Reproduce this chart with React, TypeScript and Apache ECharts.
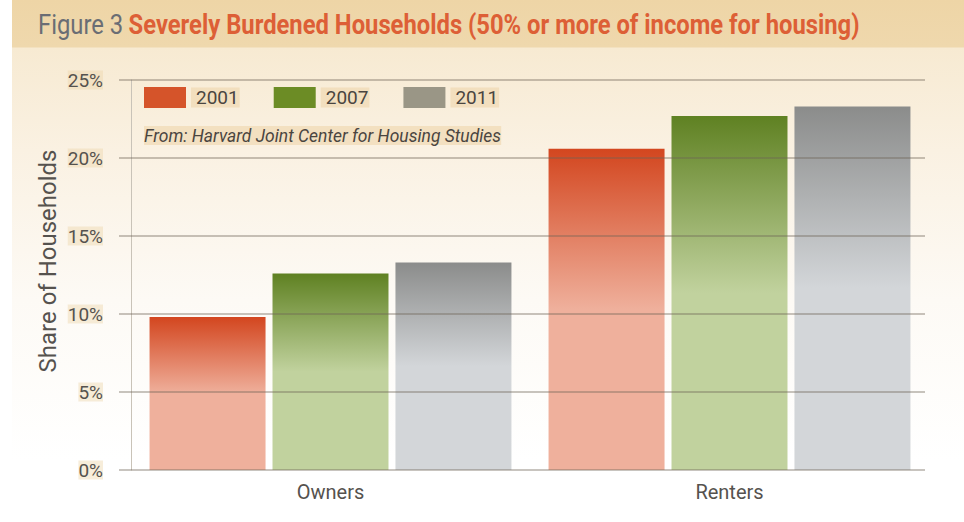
import React, { useEffect, useRef } from "react";
import * as echarts from "echarts";

const categories = ["Owners", "Renters"];
const years = ["2001", "2007", "2011"];
const share2001 = [9.8, 20.6];
const share2007 = [12.6, 22.7];
const share2011 = [13.3, 23.3];
const yTicks = [0, 5, 10, 15, 20, 25];

const FONT = 'Roboto, "Liberation Sans", sans-serif';

const palette = [
  { legend: "#d5542a", top: "#d3461f", bottom: "#efb09c" },
  { legend: "#6c8c25", top: "#5f8122", bottom: "#c1d29e" },
  { legend: "#9a9686", top: "#8b8c8b", bottom: "#d3d6d9" },
];

function grad(top: string, bottom: string) {
  return new echarts.graphic.LinearGradient(0, 0, 0, 1, [
    { offset: 0, color: top },
    { offset: 0.5, color: bottom },
    { offset: 1, color: bottom },
  ]);
}

export default function App() {
  const ref = useRef<HTMLDivElement>(null);
  useEffect(() => {
    if (!ref.current) return;
    const chart = echarts.init(ref.current, null, { renderer: "svg" });
    const seriesData = [share2001, share2007, share2011];
    chart.setOption({
      animation: false,
      backgroundColor: "transparent",
      legend: {
        left: 144,
        top: 87,
        padding: 0,
        itemWidth: 42,
        itemHeight: 21,
        itemGap: 34,
        icon: "rect",
        data: years.map((y, i) => ({ name: y, itemStyle: { color: palette[i].legend } })),
        textStyle: {
          fontFamily: FONT,
          fontSize: 19,
          color: "#4a4540",
          backgroundColor: "rgba(238,214,172,0.6)",
          padding: [1, 1, 0, 5],
        },
      },
      graphic: [
        {
          type: "text",
          x: 38,
          y: 10,
          scaleX: 0.85,
          style: {
            text: "{a|Figure 3} {b|Severely Burdened Households (50% or more of income for housing)}",
            rich: {
              a: { fontFamily: FONT, fontSize: 28, fill: "#6a6d74" },
              b: { fontFamily: FONT, fontSize: 28, fontWeight: "bold", fill: "#dd5f36", padding: [0, 0, 0, 3] },
            },
          },
        },
        {
          type: "text",
          x: 144,
          y: 126,
          scaleX: 0.92,
          style: {
            text: "From: Harvard Joint Center for Housing Studies",
            fontFamily: FONT,
            fontStyle: "italic",
            fontSize: 19,
            fill: "#4a4540",
            backgroundColor: "rgba(238,214,172,0.6)",
          },
        },
        {
          type: "text",
          left: 36,
          top: "center",
          rotation: Math.PI / 2,
          style: {
            text: "Share of Households",
            fontFamily: FONT,
            fontSize: 24,
            fill: "#55524e",
          },
        },
      ],
      grid: [
        { left: 131, right: 35, top: 80, bottom: 52 },
        { left: 119, right: 39, top: 80, bottom: 52 },
      ],
      xAxis: [
        {
          type: "category",
          gridIndex: 0,
          data: categories,
          axisLine: { show: false },
          axisTick: { show: false },
          axisLabel: { fontFamily: FONT, fontSize: 20, color: "#55524e", margin: 12 },
        },
        { type: "value", gridIndex: 1, show: false, min: 0, max: 1 },
      ],
      yAxis: [
        {
          type: "value",
          gridIndex: 0,
          min: 0,
          max: 25,
          interval: 5,
          axisLabel: { show: false },
          splitLine: { show: false },
          axisTick: { show: false },
          axisLine: { show: true, lineStyle: { color: "#c9c3b8", width: 1 } },
        },
        {
          type: "value",
          gridIndex: 1,
          min: yTicks[0],
          max: yTicks[yTicks.length - 1],
          interval: 5,
          z: 5,
          axisLine: { show: false },
          axisTick: { show: false },
          axisLabel: {
            formatter: (v: number) => v + "%",
            fontFamily: FONT,
            fontSize: 19,
            color: "#55524e",
            margin: 16,
            backgroundColor: "rgba(238,214,172,0.45)",
          },
          splitLine: { show: true, lineStyle: { color: "rgba(110,100,85,0.5)", width: 1.5 } },
        },
      ],
      series: years.map((y, i) => ({
        name: y,
        type: "bar",
        xAxisIndex: 0,
        yAxisIndex: 0,
        data: seriesData[i],
        barGap: "6%",
        barCategoryGap: "9.3%",
        itemStyle: { color: grad(palette[i].top, palette[i].bottom) },
      })),
    });
    return () => chart.dispose();
  }, []);
  return (
    <div
      style={{
        position: "fixed",
        left: 0,
        top: 0,
        width: 964,
        height: 522,
        background:
          "linear-gradient(to right, #ffffff 0px, #ffffff 12px, transparent 12px), linear-gradient(to bottom, #eed5a6 0px, #efd8ad 47px, #f7ead2 48px, #faf1e2 150px, #fdfaf5 300px, #ffffff 460px)",
      }}
    >
      <div ref={ref} style={{ width: 964, height: 522 }} />
    </div>
  );
}
